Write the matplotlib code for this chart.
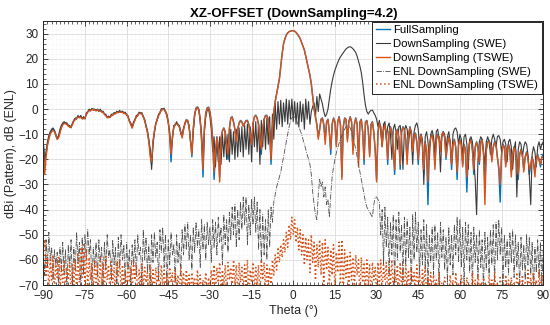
import numpy as np
import matplotlib
matplotlib.use("Agg")
import matplotlib.pyplot as plt
from matplotlib.ticker import MultipleLocator

# theta grid: -90 .. 90 step 0.5 (361 samples)
theta = np.arange(-90, 90.25, 0.5)

full_sampling = [
    -14, -22, -18, -14, -11.5, -9.5, -8.5, -8, -8.5, -10, -11.5, -11, -9, -7, -6, -5.5, -5.5, -6, -6.5, -7,
    -7, -6, -4.5, -4, -3.5, -3, -3, -3.2, -3.5, -3.6, -3.5, -2, -1, -0.5, -0.3, 0, 0, -0.2, -0.3, -0.2,
    -0.5, -0.5, -0.8, -1.2, -1.8, -2.5, -3, -3.2, -3, -2.5, -2, -1.8, -1.5, -1.2, -1, -1, -1, -1.2, -1.3, -1.6,
    -2, -3, -4.5, -6, -7, -5.5, -4, -3, -2.2, -1.6, -1.4, -1.8, -2.8, -4.5, -6.5, -9, -12, -17, -22, -14,
    -9, -6, -4, -2.5, -1.2, -0.3, 0.2, 0, -0.8, -2.5, -5, -10, -21, -11, -7, -6, -5.7, -6, -7, -9,
    -11, -8, -5.5, -4.2, -4.5, -7, -12, -19, -8, -2, 0.5, 0.9, 0, -4, -12, -27, -8, -1.5, 0.5, 0.8,
    -1, -5, -12, -28, -18, -11, -15, -27, -12, -8.5, -7.5, -9, -13, -20, -8, -3.5, -3, -5, -8, -12,
    -8, -5.5, -4.5, -5, -6.5, -5.5, -4.5, -4.5, -6, -9, -12.5, -6, -3, -2.4, -3.5, -6, -11, -18, -8, -4,
    -2.5, -2.5, -4, -9, -22, -8, -1, 3, 6, 9, 12, 17, 22, 26, 28, 29.5, 30.3, 30.8, 31, 31.2,
    31.2, 31, 30.5, 29.8, 29, 28, 26.5, 25, 23.5, 21, 18.5, 16, 13.5, 10, 5, 0, -3, -6, -11, -8,
    -4, -3.5, -6, -12, -5, -4, -9, -18, -6, -3.5, -5, -14, -5, -3, -6, -27, -7, -3.5, -4, -12,
    -5, -3, -5, -16, -6, -3.5, -6, -20, -5, -4, -9, -22, -5, -4.5, -8, -18, -6, -5, -9, -16,
    -28, -9, -5.5, -7, -14, -8, -6, -10, -22, -9, -7, -9, -15, -26, -10, -8, -11, -24, -9, -7,
    -8, -12, -20, -10, -7, -9, -18, -10, -9.5, -13, -22, -12, -10, -14, -26, -13, -17, -38, -15, -11,
    -10, -13, -22, -12, -10, -11, -16, -10, -9, -11, -20, -14, -11, -13, -24, -14, -12, -15, -28, -14,
    -12, -14, -22, -14, -16, -33, -17, -13, -12, -16, -26, -15, -13, -15, -22, -13, -12, -17, -30, -16,
    -13, -12.5, -14, -20, -15, -13, -14, -19, -24, -37, -18, -14, -15, -22, -16, -14, -16, -25, -18, -15,
    -16, -21, -28, -18, -16, -18, -24, -19, -17, -19, -26, -22, -19, -21, -25, -20, -18, -20, -23, -19,
    -18,
]

down_swe = [
    -13, -20, -17, -13, -10.5, -9, -8, -7.5, -8.5, -10.5, -12, -10.5, -8, -6.5, -5.5, -5, -5.5, -5.5, -6.5, -6.5,
    -7.5, -5.5, -4.5, -3.5, -4, -2.5, -3.5, -2.5, -4, -3, -4, -1.5, -1.2, 0, -0.8, 0.3, -0.5, 0, -0.8, 0,
    -1, 0, -1.2, -0.8, -2.2, -2, -3.5, -2.8, -3.4, -2, -2.6, -1.3, -1.9, -0.8, -1.5, -0.5, -1.4, -0.8, -1.8, -1.2,
    -2.5, -2.6, -5, -5.5, -7.5, -5, -4.5, -2.5, -2.8, -1.2, -1.9, -1.4, -3.3, -4, -7, -8.5, -13, -16, -24, -13,
    -9.5, -5.5, -4.5, -2, -1.7, 0.2, -0.3, 0.4, -1.3, -2, -5.5, -9, -17, -12, -6.5, -6.5, -5, -6.5, -6.5, -10,
    -10, -7.5, -6, -4.5, -5, -6.5, -13, -16, -9, -2.5, 0, 0.5, -0.5, -5, -10, -22, -9, -3, -0.5, 0,
    -3, -8, -17, -11, -23, -12, -21, -11, -22, -10, -19, -9, -20, -10, -21, -8, -18, -9, -20, -8,
    -19, -7.5, -17, -7, -19, -6.5, -16, -6, -18, -7, -21, -5.5, -15, -5, -17, -5.5, -22, -4.5, -15, -4,
    -16, -3.5, -14, -3, -20, -2, -12, 2, -8, 3, -6, 3.5, -7, 2.5, -5, 4, -6, 3.5, -4, 4,
    -5, 3, -6, 2.5, -7, 3, -5, 2, -8, 4, -4, 3, -6, -1, 1, 2.5, -3, 5, -1, 6,
    4, 2, -1, -3, -2, 0, 4, 8, 11, 13.5, 15.5, 17, 18.5, 19.8, 20.8, 21.6, 22.4, 23.2, 23.9, 24.4,
    24.7, 24.8, 24.5, 24, 23.3, 22.5, 21, 19, 17, 14.5, 10.5, 5.5, 1.5, -1, -2, -1, -0.5, -0.4, -1.5, -2.5,
    -4, -7, -4.5, -9, -15, -6, -5, -12, -7, -5.5, -10, -20, -8, -6, -9, -16, -7, -6.5, -11, -24,
    -9, -6.5, -8, -14, -8, -10, -22, -9, -6.5, -5.5, -8, -15, -10, -12, -30, -11, -9, -13, -20, -10,
    -8.5, -11, -18, -9, -8, -12, -25, -11, -9, -10, -16, -11, -9, -13, -22, -10, -8, -7.5, -9, -14,
    -10, -12, -19, -11, -10, -14, -24, -12, -11, -13, -20, -28, -42, -20, -13, -11, -12, -17, -22, -13,
    -11, -13, -18, -12, -10, -12, -15, -11, -10.5, -12, -17, -13, -12, -14, -21, -13, -12, -15, -24, -16,
    -13, -35, -16, -13, -14, -19, -15, -13, -14, -18, -27, -38, -18, -15, -17, -23, -15, -13, -16, -14,
    -13,
]

down_tswe = [
    -15, -26, -19, -14.5, -12, -10, -9, -8.5, -9, -10.5, -12, -11.5, -9.5, -7.5, -6.3, -5.8, -5.8, -6.2, -6.8, -7.2,
    -7.2, -6.2, -4.8, -4.2, -3.7, -3.2, -3.2, -3.4, -3.7, -3.8, -3.6, -2.2, -1.2, -0.7, -0.5, -0.2, -0.2, -0.4, -0.5, -0.4,
    -0.7, -0.7, -1, -1.4, -2, -2.7, -3.2, -3.4, -3.2, -2.7, -2.2, -2, -1.7, -1.4, -1.2, -1.2, -1.2, -1.4, -1.5, -1.8,
    -2.2, -3.2, -4.7, -6.3, -7.5, -5.8, -4.2, -3.2, -2.4, -1.8, -1.6, -2, -3, -4.7, -6.8, -9.5, -13, -19, -21, -13,
    -8.8, -6, -4.2, -2.7, -1.4, -0.5, 0, -0.2, -1, -2.7, -5.3, -11, -18, -11, -7.3, -6.2, -5.9, -6.2, -7.2, -9.3,
    -11.5, -8.2, -5.7, -4.4, -4.7, -7.3, -13, -18, -7.5, -2.2, 0.3, 0.7, -0.2, -4.3, -13, -24, -7.5, -1.7, 0.3, 0.6,
    -1.2, -5.3, -13, -25, -17, -11.3, -16, -29, -11.5, -8.7, -7.7, -9.3, -14, -18, -7.7, -3.7, -3.2, -5.3, -8.5, -13,
    -7.7, -5.7, -4.7, -5.2, -6.8, -5.7, -4.7, -4.7, -6.3, -9.5, -14, -5.8, -3.2, -2.6, -3.7, -6.3, -12, -16, -7.6, -4.2,
    -2.7, -2.7, -4.2, -9.5, -20, -7.6, -1, 3, 6, 9, 12, 17, 22, 26, 28, 29.5, 30.3, 30.8, 31, 31.2,
    31.2, 31, 30.5, 29.8, 29, 28, 26.5, 25, 23.5, 21, 18.5, 16, 13.5, 10, 5, 0, -3.2, -6.5, -12, -8.3,
    -4.2, -3.7, -6.5, -14, -5.3, -4.2, -9.5, -16, -6.3, -3.7, -5.3, -15, -5.3, -3.2, -6.5, -28, -7.3, -3.7, -4.3, -13,
    -5.3, -3.2, -5.3, -18, -6.3, -3.7, -6.3, -23, -5.3, -4.3, -9.5, -20, -5.3, -4.7, -8.5, -19, -6.3, -5.2, -9.5, -17,
    -29, -9.5, -5.7, -7.3, -15, -8.3, -6.3, -10.5, -20, -9.3, -7.3, -9.5, -16, -24, -10.5, -8.2, -11.5, -22, -9.3, -7.3,
    -8.3, -12.5, -22, -10.5, -7.3, -9.3, -17, -10.5, -9.8, -13.5, -20, -12.5, -10.3, -14.5, -24, -13.5, -16, -29, -15, -11.3,
    -10.3, -13.5, -24, -12.3, -10.3, -11.3, -17, -10.3, -9.3, -11.3, -19, -14.5, -11.3, -13.5, -22, -14.3, -12.3, -15.5, -25, -14.3,
    -12.3, -14.5, -23, -14.3, -16.5, -27, -17.5, -13.3, -12.3, -16.5, -24, -15.3, -13.3, -15.5, -21, -13.3, -12.3, -18, -38, -16.5,
    -13.3, -12.8, -14.3, -21, -15.3, -13.3, -14.3, -19.5, -23, -30, -18.3, -14.3, -15.3, -23, -16.3, -14.3, -16.5, -27, -18.3, -15.3,
    -16.3, -22, -26, -18.3, -16.3, -18.5, -25, -19.3, -17.3, -19.5, -24, -22.3, -19.3, -21.5, -27, -20.3, -18.3, -20.5, -22, -19.3,
    -19,
]

enl_swe = [
    -58, -66, -52, -63, -49, -60, -55, -68, -56, -62, -57, -71, -55, -64, -53, -66, -56, -72, -54, -63,
    -52, -70, -55, -64, -49, -61, -53, -72, -51, -66, -50, -60, -48, -58, -52, -70, -55, -63, -53, -67,
    -52, -61, -55, -71, -53, -64, -50, -59, -56, -68, -52, -62, -55, -72, -51, -63, -50, -60, -54, -69,
    -53, -64, -56, -71, -54, -62, -52, -66, -50, -58, -55, -70, -48, -60, -51, -65, -54, -72, -50, -61,
    -49, -59, -53, -68, -48, -57, -47, -63, -50, -71, -52, -62, -49, -58, -54, -69, -50, -61, -53, -66,
    -48, -58, -46, -56, -45, -60, -50, -64, -47, -57, -45, -55, -48, -63, -44, -56, -46, -60, -45, -54,
    -47, -61, -44, -55, -45, -58, -43, -53, -47, -62, -42, -54, -44, -57, -41, -52, -39, -50, -38, -55,
    -40, -52, -37, -48, -35, -46, -35, -54, -38, -50, -36, -46, -35, -49, -37, -56, -40, -61, -42, -58,
    -44, -60, -40, -55, -39, -45, -37, -34, -31, -29, -27, -25, -22, -19, -16, -13, -10, -7, -5, -3.5,
    -3, -3.2, -4, -5.5, -7, -8.5, -10, -12, -14, -16, -18, -20, -22, -26, -33, -38, -42, -44, -34, -28,
    -31, -29, -35, -31, -38, -36, -43, -34, -27, -23, -20, -17.5, -15.5, -13.5, -12, -10.5, -9, -8, -7, -6.5,
    -6.5, -7.5, -9, -11, -13.5, -16, -19, -22, -25, -28, -31, -34, -37, -39, -40, -41, -42, -43, -38, -35,
    -35, -36, -37, -50, -40, -62, -39, -55, -43, -66, -45, -58, -42, -70, -44, -60, -41, -57, -46, -68,
    -43, -62, -44, -59, -47, -71, -42, -60, -41, -57, -45, -66, -48, -62, -44, -64, -46, -70, -50, -61,
    -47, -66, -46, -60, -49, -72, -45, -59, -48, -64, -51, -69, -47, -62, -50, -66, -46, -58, -43, -61,
    -44, -63, -47, -70, -45, -60, -46, -65, -49, -71, -47, -61, -50, -67, -48, -63, -52, -72, -49, -64,
    -51, -66, -48, -62, -46, -69, -45, -60, -44, -58, -47, -70, -50, -63, -52, -66, -49, -61, -48, -67,
    -50, -63, -53, -71, -51, -64, -54, -68, -50, -62, -51, -66, -53, -72, -55, -65, -52, -67, -53, -70,
    -56,
]

enl_tswe = [
    -56, -52, -66, -58, -72, -60, -68, -58, -73, -61, -67, -59, -74, -62, -69, -60, -75, -63, -68, -61,
    -73, -62, -70, -60, -74, -58, -69, -55, -67, -54, -70, -56, -72, -59, -68, -61, -74, -60, -69, -62,
    -73, -59, -70, -61, -75, -58, -68, -62, -73, -60, -69, -63, -74, -61, -67, -60, -72, -62, -70, -64,
    -74, -61, -69, -63, -73, -60, -68, -62, -75, -64, -70, -61, -72, -63, -69, -65, -74, -62, -70, -64,
    -73, -63, -69, -65, -75, -62, -70, -64, -72, -66, -74, -63, -69, -65, -75, -64, -71, -66, -73, -63,
    -70, -65, -75, -64, -71, -66, -74, -65, -70, -67, -75, -64, -72, -66, -74, -68, -71, -65, -75, -67,
    -72, -64, -70, -62, -74, -63, -69, -61, -73, -64, -70, -62, -75, -61, -68, -63, -72, -60, -70, -62,
    -74, -61, -69, -63, -73, -62, -70, -60, -75, -64, -69, -61, -72, -63, -70, -62, -74, -60, -68, -61,
    -73, -62, -70, -63, -72, -60, -66, -58, -64, -55, -61, -54, -59, -52, -57, -49, -55, -46, -52, -43,
    -50, -44, -53, -47, -56, -48, -58, -50, -62, -51, -60, -52, -65, -50, -61, -53, -68, -54, -63, -52,
    -66, -53, -70, -52, -64, -55, -71, -56, -66, -54, -72, -57, -65, -53, -69, -52, -73, -56, -67, -58,
    -74, -57, -68, -59, -72, -58, -66, -60, -75, -59, -69, -61, -73, -60, -70, -62, -74, -61, -68, -63,
    -75, -61, -70, -60, -73, -62, -68, -61, -74, -63, -70, -60, -72, -64, -69, -62, -75, -61, -71, -63,
    -74, -62, -70, -64, -75, -63, -69, -65, -73, -62, -71, -66, -75, -64, -70, -63, -74, -67, -72, -65,
    -75, -66, -72, -68, -76, -65, -73, -69, -75, -67, -72, -70, -76, -66, -73, -68, -75, -65, -72, -69,
    -76, -66, -73, -69, -75, -67, -72, -70, -76, -65, -73, -68, -75, -66, -72, -69, -76, -67, -73, -70,
    -75, -66, -72, -68, -76, -65, -73, -69, -75, -67, -72, -70, -76, -66, -73, -68, -75, -67, -72, -69,
    -76, -65, -73, -68, -75, -66, -72, -69, -76, -64, -73, -67, -75, -65, -72, -68, -76, -64, -73, -66,
    -70,
]

for s in (full_sampling, down_swe, down_tswe, enl_swe, enl_tswe):
    assert len(s) == len(theta), len(s)

labels = ["FullSampling", "DownSampling (SWE)", "DownSampling (TSWE)",
          "ENL DownSampling (SWE)", "ENL DownSampling (TSWE)"]
x_ticks = list(range(-90, 91, 15))
y_ticks = list(range(-70, 31, 10))

plt.rcParams['font.family'] = ['Liberation Sans', 'DejaVu Sans']
fig = plt.figure(figsize=(5.5, 3.25), dpi=100)
ax = fig.add_axes([0.0787, 0.123, 0.909, 0.812])

ax.plot(theta, full_sampling, color='#0072BD', lw=1.0, label=labels[0])
ax.plot(theta, down_swe, color='#3a3a3a', lw=0.8, label=labels[1])
ax.plot(theta, down_tswe, color='#D95319', lw=1.0, label=labels[2])
ax.plot(theta, enl_swe, color='#505050', lw=0.6, ls='-.', label=labels[3])
ax.plot(theta, enl_tswe, color='#D95319', lw=1.1, ls=':', label=labels[4])

ax.set_xlim(-90, 90)
ax.set_ylim(-70, 35)
ax.set_xticks(x_ticks)
ax.set_yticks(y_ticks)
ax.xaxis.set_minor_locator(MultipleLocator(1.5))
ax.yaxis.set_minor_locator(MultipleLocator(2))
ax.grid(True, which='major', color='#dcdcdc', lw=0.6)
ax.grid(True, which='minor', color='#ececec', lw=0.4, ls=':')
ax.set_axisbelow(True)
ax.tick_params(which='both', direction='in', top=True, right=True, colors='#262626', labelsize=8.5)
ax.tick_params(which='major', length=3.5, width=0.6)
ax.tick_params(which='minor', length=2, width=0.5)
for sp in ax.spines.values():
    sp.set_color('#262626')
    sp.set_linewidth(0.7)

ax.set_title('XZ-OFFSET (DownSampling=4.2)', fontsize=9.5, fontweight='bold', color='#000000', pad=3)
ax.set_xlabel('Theta (°)', fontsize=9, color='#262626', labelpad=2)
ax.set_ylabel('dBi (Pattern), dB (ENL)', fontsize=9, color='#262626', labelpad=1)

leg = ax.legend(loc='upper right', bbox_to_anchor=(0.997, 0.997), borderaxespad=0,
                fontsize=8.2, handlelength=1.25, handletextpad=0.3, labelspacing=0.33,
                borderpad=0.3, fancybox=False, framealpha=1, edgecolor='#262626')
leg.get_frame().set_linewidth(0.7)

fig.savefig('out.png', dpi=100, facecolor='white')
